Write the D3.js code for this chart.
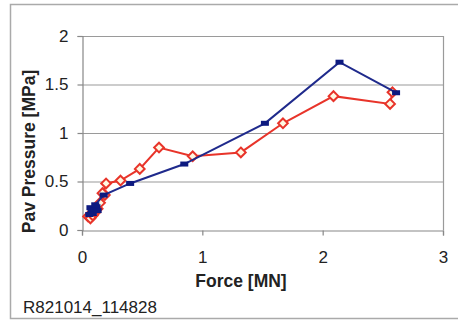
<!DOCTYPE html>
<html>
<head>
<meta charset="utf-8">
<script src="https://cdn.jsdelivr.net/npm/d3@7"></script>
<style>
  html, body { margin: 0; padding: 0; background: #fff; }
  svg { display: block; font-family: "Liberation Sans", Arial, sans-serif; }
</style>
</head>
<body>
<svg id="chart" width="458" height="320"></svg>
<script>
// Blue series: force [MN] vs pavement pressure [MPa]
const blueForce    = [0.06, 0.08, 0.07, 0.10, 0.12, 0.09, 0.13, 0.11, 0.18, 0.40, 0.85, 1.52, 2.14, 2.61];
const bluePressure = [0.16, 0.19, 0.23, 0.21, 0.24, 0.17, 0.20, 0.26, 0.36, 0.48, 0.68, 1.10, 1.73, 1.415];

// Red series
const redForce    = [0.05, 0.07, 0.09, 0.11, 0.13, 0.15, 0.19, 0.17, 0.20, 0.32, 0.48, 0.64, 0.92, 1.32, 1.67, 2.09, 2.56, 2.58];
const redPressure = [0.14, 0.12, 0.15, 0.18, 0.22, 0.28, 0.36, 0.38, 0.48, 0.51, 0.63, 0.85, 0.76, 0.80, 1.10, 1.38, 1.30, 1.42];

const xTicks = [0, 1, 2, 3];
const yTicks = [0, 0.5, 1, 1.5, 2];

const svg = d3.select("#chart");

// outer chart frame
svg.append("rect")
  .attr("x", 10.5).attr("y", 4.5).attr("width", 470).attr("height", 314)
  .attr("fill", "none").attr("stroke", "#aaa").attr("stroke-width", 1.5);

const x = d3.scaleLinear().domain([0, 3]).range([82, 443]);
const y = d3.scaleLinear().domain([0, 2]).range([230, 36]);

// horizontal gridlines
svg.append("g").selectAll("line").data(yTicks.filter(d => d > 0)).join("line")
  .attr("x1", x(0)).attr("x2", x(3))
  .attr("y1", d => y(d) + 0.5).attr("y2", d => y(d) + 0.5)
  .attr("stroke", "#9a9a9a").attr("stroke-width", 1.2);

// right border of plot area
svg.append("line")
  .attr("x1", x(3) + 0.5).attr("x2", x(3) + 0.5)
  .attr("y1", y(2)).attr("y2", y(0))
  .attr("stroke", "#9a9a9a").attr("stroke-width", 1.2);

// axes
const xAxis = svg.append("g")
  .attr("transform", `translate(0,${y(0) + 0.5})`)
  .call(d3.axisBottom(x).tickValues(xTicks).tickFormat(d3.format("d")).tickSize(5).tickPadding(15));
const yAxis = svg.append("g")
  .attr("transform", `translate(${x(0) + 0.5},0)`)
  .call(d3.axisLeft(y).tickValues(yTicks).tickFormat(d => String(d)).tickSize(5).tickPadding(9));

[xAxis, yAxis].forEach(g => {
  g.select(".domain").attr("stroke", "#888").attr("stroke-width", 1.2);
  g.selectAll(".tick line").attr("stroke", "#888").attr("stroke-width", 1.2);
  g.selectAll(".tick text")
    .attr("fill", "#222").attr("font-size", 17)
    .attr("font-family", "Liberation Sans, Arial, sans-serif");
});

// axis titles
svg.append("text")
  .attr("x", 241).attr("y", 286.5)
  .attr("text-anchor", "middle")
  .attr("font-size", 17.5).attr("font-weight", "bold").attr("fill", "#222")
  .text("Force [MN]");

svg.append("text")
  .attr("transform", "translate(34.5,151.5) rotate(-90)")
  .attr("text-anchor", "middle")
  .attr("font-size", 17.5).attr("font-weight", "bold").attr("fill", "#222")
  .text("Pav Pressure [MPa]");

svg.append("text")
  .attr("x", 23).attr("y", 313)
  .attr("font-size", 17).attr("fill", "#222")
  .text("R821014_114828");

const line = d3.line().x(d => x(d[0])).y(d => y(d[1]));

// red series (drawn first so blue sits over it)
const redData = redForce.map((f, i) => [f, redPressure[i]]);
svg.append("path").datum(redData)
  .attr("d", line).attr("fill", "none")
  .attr("stroke", "#e8342a").attr("stroke-width", 2);
svg.append("g").selectAll("path").data(redData).join("path")
  .attr("d", d3.symbol(d3.symbolDiamond2, 60))
  .attr("transform", d => `translate(${x(d[0])},${y(d[1])})`)
  .attr("fill", "#fff8e2").attr("stroke", "#e8342a").attr("stroke-width", 2);

// blue series with dash markers
const blueData = blueForce.map((f, i) => [f, bluePressure[i]]);
svg.append("path").datum(blueData)
  .attr("d", line).attr("fill", "none")
  .attr("stroke", "#1f2a8c").attr("stroke-width", 2);
svg.append("g").selectAll("rect").data(blueData).join("rect")
  .attr("x", d => x(d[0]) - 4).attr("y", d => y(d[1]) - 2.5)
  .attr("width", 8).attr("height", 5)
  .attr("fill", "#0d1a80");
</script>
</body>
</html>
